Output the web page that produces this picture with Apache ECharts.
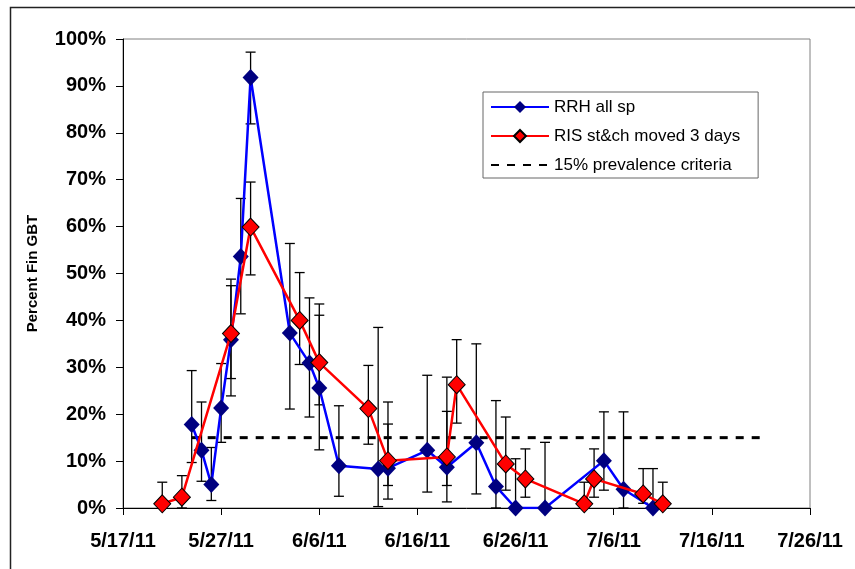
<!DOCTYPE html>
<html><head><meta charset="utf-8">
<script src="https://cdn.jsdelivr.net/npm/echarts@6/dist/echarts.min.js"></script>
<style>html,body{margin:0;padding:0;background:#fff}#c{width:855px;height:569px}</style>
</head><body><div id="c"></div><script>
// ---- data ----
const xTickLabels = ['5/17/11','5/27/11','6/6/11','6/16/11','6/26/11','7/6/11','7/16/11','7/26/11'];

const rrhDates  = ['5/24/11','5/25/11','5/26/11','5/27/11','5/28/11','5/29/11','5/30/11','6/3/11','6/5/11','6/6/11','6/8/11','6/12/11','6/13/11','6/17/11','6/19/11','6/22/11','6/24/11','6/26/11','6/29/11','7/5/11','7/7/11','7/10/11'];
const rrhValues = [17.8, 12.3, 5.0, 21.3, 35.9, 53.6, 91.8, 37.3, 30.9, 25.6, 9.0, 8.3, 8.5, 12.3, 8.7, 13.9, 4.6, 0, 0, 10.1, 4.0, 0];
const rrhLow    = [9.7, 5.7, 1.6, 14.0, 23.9, 41.4, 81.9, 21.1, 19.4, 12.4, 2.5, 0.3, 4.8, 3.4, 4.8, 3.0, 0, 0, 0, 3.8, 0, 0];
const rrhHigh   = [29.3, 22.6, 12.9, 30.8, 47.4, 66.0, 97.2, 56.4, 44.8, 41.1, 21.8, 38.5, 17.9, 28.3, 20.6, 35.0, 22.9, 10.5, 14.0, 20.5, 20.5, 8.4];

const risDates  = ['5/21/11','5/23/11','5/28/11','5/30/11','6/4/11','6/6/11','6/11/11','6/13/11','6/19/11','6/20/11','6/25/11','6/27/11','7/3/11','7/4/11','7/9/11','7/11/11'];
const risValues = [0.9, 2.3, 37.2, 59.9, 40.0, 31.0, 21.2, 10.1, 10.9, 26.3, 9.4, 6.2, 0.9, 6.2, 3.0, 0.9];
const risLow    = [0, 0, 27.6, 49.7, 30.6, 22.0, 13.6, 1.9, 1.3, 18.1, 3.8, 2.3, 0, 2.3, 1.0, 0];
const risHigh   = [5.5, 6.9, 48.8, 69.5, 50.2, 43.5, 30.4, 22.6, 27.9, 35.9, 19.4, 12.6, 5.5, 12.6, 8.4, 5.5];

const thresholdDates  = ['5/24/11','7/21/11'];
const thresholdValues = [15, 15];

const seriesNames = ['RRH all sp', 'RIS st&ch moved 3 days', '15% prevalence criteria'];

// ---- helpers ----
const T0 = Date.UTC(2011, 4, 17);
function dayOf(s) {
  const p = s.split('/').map(Number);
  return Math.round((Date.UTC(2000 + p[2], p[0] - 1, p[1]) - T0) / 86400000);
}
function pairs(dates, vals) { return dates.map((d, i) => [dayOf(d), vals[i]]); }
function errs(dates, lo, hi) { return dates.map((d, i) => [dayOf(d), lo[i], hi[i]]); }

function errRender(params, api) {
  const x = api.value(0), lo = api.value(1), hi = api.value(2);
  const a = api.coord([x, lo]), b = api.coord([x, hi]);
  const hw = 5;
  const st = { stroke: '#000', lineWidth: 1.3 };
  return { type: 'group', children: [
    { type: 'line', shape: { x1: a[0], y1: a[1], x2: b[0], y2: b[1] }, style: st },
    { type: 'line', shape: { x1: b[0] - hw, y1: b[1], x2: b[0] + hw, y2: b[1] }, style: st },
    { type: 'line', shape: { x1: a[0] - hw, y1: a[1], x2: a[0] + hw, y2: a[1] }, style: st }
  ]};
}

const FONT = "'Liberation Sans', Arial, sans-serif";
const chart = echarts.init(document.getElementById('c'), null, { renderer: 'canvas' });
chart.setOption({
  animation: false,
  backgroundColor: '#fff',
  graphic: [{
    type: 'rect', left: 8, top: 5, z: -10, silent: true,
    shape: { width: 900, height: 620 },
    style: { fill: 'none', stroke: '#222', lineWidth: 1.5 }
  }],
  grid: { left: 123, right: 45, top: 39, bottom: 61, show: true, borderColor: '#808080', borderWidth: 1, outerBoundsMode: 'none' },
  legend: {
    data: [
      { name: seriesNames[0] },
      { name: seriesNames[1] },
      { name: seriesNames[2], itemStyle: { opacity: 0, borderWidth: 0 } }
    ],
    orient: 'vertical',
    left: 483, top: 92,
    padding: [5, 18, 3, 7],
    itemWidth: 58, itemHeight: 15, itemGap: 9,
    backgroundColor: '#fff',
    borderColor: '#666', borderWidth: 1,
    textStyle: { fontFamily: FONT, fontSize: 17, color: '#000', lineHeight: 20 }
  },
  xAxis: {
    type: 'value', min: 0, max: 70, interval: 10,
    axisLine: { lineStyle: { color: '#000', width: 1 } },
    axisTick: { show: true, inside: false, length: 7, lineStyle: { color: '#000' } },
    splitLine: { show: false },
    axisLabel: {
      margin: 23, color: '#000', fontFamily: FONT, fontSize: 20, fontWeight: 'bold',
      formatter: v => xTickLabels[Math.round(v / 10)]
    }
  },
  yAxis: {
    type: 'value', min: 0, max: 100, interval: 10,
    name: 'Percent Fin GBT', nameLocation: 'middle', nameGap: 83,
    nameTextStyle: { fontFamily: FONT, fontSize: 15, fontWeight: 'bold', color: '#000' },
    axisLine: { show: true, lineStyle: { color: '#000', width: 1 } },
    axisTick: { show: true, inside: false, length: 7, lineStyle: { color: '#000' } },
    splitLine: { show: false },
    axisLabel: { margin: 17, color: '#000', fontFamily: FONT, fontSize: 20, fontWeight: 'bold', formatter: '{value}%' }
  },
  series: [
    {
      name: 'rrhErr', type: 'custom', renderItem: errRender, z: 1, silent: true,
      encode: { x: 0, y: [1, 2] }, data: errs(rrhDates, rrhLow, rrhHigh)
    },
    {
      name: 'risErr', type: 'custom', renderItem: errRender, z: 1, silent: true,
      encode: { x: 0, y: [1, 2] }, data: errs(risDates, risLow, risHigh)
    },
    {
      name: seriesNames[2], type: 'line', z: 2, symbol: 'none',
      lineStyle: { color: '#000', width: 3, type: [8, 8] },
      itemStyle: { color: '#000' },
      data: pairs(thresholdDates, thresholdValues)
    },
    {
      name: seriesNames[0], type: 'line', z: 3,
      symbol: 'diamond', symbolSize: [16, 17],
      lineStyle: { color: '#0000ff', width: 2.5 },
      itemStyle: { color: '#000080', borderColor: '#000080', borderWidth: 0 },
      data: pairs(rrhDates, rrhValues)
    },
    {
      name: seriesNames[1], type: 'line', z: 4,
      symbol: 'diamond', symbolSize: [17, 18],
      lineStyle: { color: '#ff0000', width: 2.5 },
      itemStyle: { color: '#ff0000', borderColor: '#000', borderWidth: 1 },
      data: pairs(risDates, risValues)
    }
  ]
});
</script></body></html>
